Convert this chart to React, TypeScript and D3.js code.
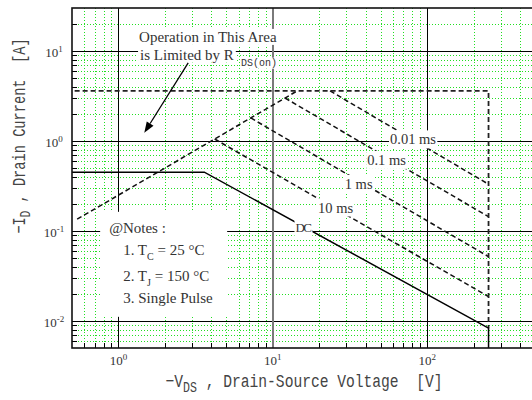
import React, { useRef, useEffect } from 'react';
import * as d3 from 'd3';

// axis ranges (log)
const vDomain: [number, number] = [0.5, 500];
const iDomain: [number, number] = [0.005, 30];
const vDecades = [1, 10, 100];
const iDecades = [0.01, 0.1, 1, 10];
const vTickExp = ['0', '1', '2'];
const iTickExp = ['-2', '-1', '0', '1'];

// SOA boundaries, [V, A]
const rdsLimit: [number, number][] = [[0.54, 0.135], [14.4, 3.6]];
const idmLimit: [number, number][] = [[0.52, 3.6], [250, 3.6], [250, 0.0083]];
const pulse001: [number, number][] = [[23.5, 3.6], [250, 0.33]];
const pulse01: [number, number][] = [[12, 3.0], [250, 0.144]];
const pulse1: [number, number][] = [[7.2, 1.8], [250, 0.0518]];
const pulse10: [number, number][] = [[4.2, 1.05], [250, 0.0186]];
const dcLine: [number, number][] = [[0.5, 0.45], [3.6, 0.45], [250, 0.0083], [250, 0.005]];

const curveLabels = [
  { text: '0.01 ms', v: 81, i: 1.04 },
  { text: '0.1 ms', v: 54.6, i: 0.615 },
  { text: '1 ms', v: 36, i: 0.333 },
  { text: '10 ms', v: 25.5, i: 0.182 },
  { text: 'DC', v: 15.7, i: 0.108 },
];

// annotation anchors [V, A]
const annoLine1: [number, number] = [1.36, 12.6];
const annoLine2: [number, number] = [1.38, 8.0];
const arrowFrom: [number, number] = [2.83, 7.36];
const arrowTo: [number, number] = [1.47, 1.23];
const notesCorner: [number, number] = [0.761, 0.163];

const noteLines = [
  { pre: '@Notes :', sub: '', post: '' },
  { pre: '1. T', sub: 'C', post: ' = 25 °C' },
  { pre: '2. T', sub: 'J', post: ' = 150 °C' },
  { pre: '3. Single Pulse', sub: '', post: '' },
];

const SERIF = '"Liberation Serif", "Times New Roman", serif';
const MONO = '"Liberation Mono", "Courier New", monospace';
const INK = '#333';

const App: React.FC = () => {
  const svgRef = useRef<SVGSVGElement>(null);

  useEffect(() => {
    if (!svgRef.current) return;
    const svg = d3.select(svgRef.current);
    svg.selectAll('*').remove();

    const plot = { left: 72, right: 535, top: 8, bottom: 348 };
    const x = d3.scaleLog().domain(vDomain).range([plot.left, plot.right]);
    const y = d3.scaleLog().domain(iDomain).range([plot.bottom, plot.top]);
    const px = (v: number) => Math.round(x(v)) + 0.5;
    const py = (v: number) => Math.round(y(v)) + 0.5;

    const isDecade = (d: number) => Math.abs(Math.log10(d) - Math.round(Math.log10(d))) < 1e-6;
    const minorV = x.ticks().filter(d => !isDecade(d) && d > vDomain[0] && d < vDomain[1]);
    const minorI = y.ticks().filter(d => !isDecade(d) && d > iDomain[0] && d < iDomain[1]);

    // minor grid, green dotted
    const grid = svg.append('g')
      .attr('stroke', '#22e022')
      .attr('stroke-width', 1)
      .attr('stroke-dasharray', '1,2');
    grid.selectAll('.gv').data(minorV).join('line')
      .attr('x1', d => px(d)).attr('x2', d => px(d))
      .attr('y1', plot.top).attr('y2', plot.bottom);
    grid.selectAll('.gh').data(minorI).join('line')
      .attr('x1', plot.left).attr('x2', plot.right)
      .attr('y1', d => py(d)).attr('y2', d => py(d));

    // decade lines
    svg.append('g').selectAll('line').data(iDecades).join('line')
      .attr('x1', plot.left).attr('x2', plot.right)
      .attr('y1', d => py(d)).attr('y2', d => py(d))
      .attr('stroke', '#000').attr('stroke-width', 1);
    svg.append('g').selectAll('line').data(vDecades).join('line')
      .attr('x1', d => (d === 10 ? Math.round(x(d)) : px(d)))
      .attr('x2', d => (d === 10 ? Math.round(x(d)) : px(d)))
      .attr('y1', plot.top).attr('y2', plot.bottom)
      .attr('stroke', d => (d === 10 ? '#7a7a7a' : '#000'))
      .attr('stroke-width', d => (d === 10 ? 2 : 1));

    // inner minor ticks
    const ticks = svg.append('g').attr('stroke', '#000').attr('stroke-width', 1);
    ticks.selectAll('.tb').data(minorV).join('line')
      .attr('x1', d => px(d)).attr('x2', d => px(d))
      .attr('y1', plot.bottom).attr('y2', plot.bottom - 5);
    ticks.selectAll('.tl').data(minorI).join('line')
      .attr('x1', plot.left).attr('x2', plot.left + 5)
      .attr('y1', d => py(d)).attr('y2', d => py(d));

    // curves
    const line = d3.line<[number, number]>().x(d => x(d[0])).y(d => y(d[1]));
    const curves = svg.append('g').attr('fill', 'none');
    [rdsLimit, pulse001, pulse01, pulse1, pulse10].forEach(c => {
      curves.append('path').attr('d', line(c))
        .attr('stroke', '#111').attr('stroke-width', 1.5).attr('stroke-dasharray', '5,3');
    });
    curves.append('path').attr('d', line(idmLimit))
      .attr('stroke', '#222').attr('stroke-width', 1.8).attr('stroke-dasharray', '5,3');
    curves.append('path').attr('d', line(dcLine))
      .attr('stroke', '#000').attr('stroke-width', 1.5);

    const boxedText = (
      parent: d3.Selection<SVGGElement, unknown, null, undefined>,
      tx: number, ty: number, str: string,
      opts: { size: number; family?: string; anchor?: string; baseline?: string; spacing?: number; padX?: number; padY?: number }
    ) => {
      const gg = parent.append('g');
      const rect = gg.append('rect').attr('fill', '#fff');
      const t = gg.append('text')
        .attr('x', tx).attr('y', ty)
        .attr('font-family', opts.family || SERIF)
        .attr('font-size', opts.size)
        .attr('fill', INK)
        .attr('text-anchor', opts.anchor || 'start')
        .attr('dominant-baseline', opts.baseline || 'auto')
        .attr('letter-spacing', opts.spacing || 0)
        .text(str);
      const bb = (t.node() as SVGTextElement).getBBox();
      const padX = opts.padX ?? 1;
      const padY = opts.padY ?? 1;
      rect.attr('x', bb.x - padX).attr('y', bb.y - padY)
        .attr('width', bb.width + 2 * padX).attr('height', bb.height + 2 * padY);
      return t;
    };

    const labels = svg.append('g');
    curveLabels.forEach(l => {
      boxedText(labels, x(l.v), y(l.i), l.text, {
        size: l.text === 'DC' ? 13 : 14.5,
        anchor: 'middle',
        baseline: 'central',
        spacing: l.text === 'DC' ? -1.5 : 0,
        padX: 1, padY: 1,
      });
    });

    // R_DS(on) annotation
    const anno = svg.append('g');
    boxedText(anno, x(annoLine1[0]), y(annoLine1[1]), 'Operation in This Area', { size: 15, padX: 2, padY: 0 });
    boxedText(anno, x(annoLine2[0]), y(annoLine2[1]), 'is Limited by R', { size: 15, padX: 2, padY: 0 });
    boxedText(anno, x(annoLine2[0]) + 101, y(annoLine2[1]) + 6, 'DS(on)', { size: 10, family: MONO, padX: 1, padY: 0 });

    const ax0 = x(arrowFrom[0]), ay0 = y(arrowFrom[1]);
    const ax1 = x(arrowTo[0]), ay1 = y(arrowTo[1]);
    const ang = Math.atan2(ay1 - ay0, ax1 - ax0);
    const headL = 11, headW = 4;
    const bx = ax1 - headL * Math.cos(ang), by = ay1 - headL * Math.sin(ang);
    anno.append('line')
      .attr('x1', ax0).attr('y1', ay0).attr('x2', bx).attr('y2', by)
      .attr('stroke', '#000').attr('stroke-width', 1.3);
    anno.append('path')
      .attr('d', `M${ax1},${ay1} L${bx + headW * Math.sin(ang)},${by - headW * Math.cos(ang)} L${bx - headW * Math.sin(ang)},${by + headW * Math.cos(ang)} Z`)
      .attr('fill', '#000');

    // notes box
    const nx = x(notesCorner[0]), ny = y(notesCorner[1]);
    const notes = svg.append('g');
    notes.append('rect').attr('x', nx).attr('y', ny).attr('width', 127).attr('height', 105).attr('fill', '#fff');
    const lineY = [21, 43, 69, 91];
    noteLines.forEach((n, k) => {
      const t = notes.append('text')
        .attr('x', nx + (k === 0 ? 9 : 23)).attr('y', ny + lineY[k])
        .attr('font-family', SERIF).attr('font-size', 15).attr('fill', INK);
      t.append('tspan').text(n.pre);
      if (n.sub) {
        t.append('tspan').attr('font-size', 10).attr('dy', 5).text(n.sub);
        t.append('tspan').attr('dy', -5).text(n.post);
      }
    });

    // tick labels
    const tl = svg.append('g').attr('font-family', SERIF).attr('fill', INK);
    vDecades.forEach((d, k) => {
      const t = tl.append('text').attr('x', x(d)).attr('y', 365)
        .attr('text-anchor', 'middle').attr('font-size', 13);
      t.append('tspan').text('10');
      t.append('tspan').attr('font-size', 9).attr('dy', -5).text(vTickExp[k]);
    });
    iDecades.forEach((d, k) => {
      const t = tl.append('text').attr('x', 54).attr('y', y(d) + 6)
        .attr('text-anchor', 'middle').attr('font-size', 13);
      t.append('tspan').text('10');
      t.append('tspan').attr('font-size', 9).attr('dy', -5).text(iTickExp[k]);
    });

    // axis titles (condensed mono)
    const title = (tr: string, main: string, sub: string, rest: string) => {
      const g = svg.append('g').attr('transform', tr);
      const t = g.append('text').attr('font-family', MONO).attr('font-size', 19)
        .attr('fill', '#444').attr('text-anchor', 'middle').style('white-space', 'pre');
      t.append('tspan').text(main);
      t.append('tspan').attr('font-size', 15).attr('dy', 5).text(sub);
      t.append('tspan').attr('dy', -5).text(rest);
    };
    title('translate(304,387) scale(0.77,1)', '\u2212V', 'DS', ' , Drain-Source Voltage  [V]');
    title('translate(25,136) rotate(-90) scale(0.72,1)', '\u2212I', 'D', ' , Drain Current  [A]');

    // frame
    svg.append('rect')
      .attr('x', plot.left).attr('y', plot.top)
      .attr('width', plot.right - plot.left).attr('height', plot.bottom - plot.top)
      .attr('fill', 'none').attr('stroke', '#111').attr('stroke-width', 1.6);
  }, []);

  return (
    <div style={{ position: 'absolute', left: 0, top: 0, width: 532, height: 400, background: '#fff' }}>
      <svg ref={svgRef} width={532} height={400} style={{ display: 'block', overflow: 'hidden' }} />
    </div>
  );
};

export default App;
